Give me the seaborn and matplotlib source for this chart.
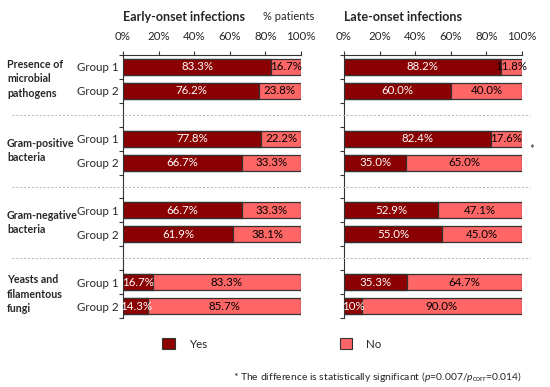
import numpy as np
import pandas as pd
import matplotlib.pyplot as plt
import seaborn as sns
from matplotlib.patches import Patch
from matplotlib.lines import Line2D
from matplotlib.transforms import blended_transform_factory

sns.set_style("white")
plt.rcParams["font.family"] = ["Lato", "DejaVu Sans"]
plt.rcParams["mathtext.fontset"] = "custom"
plt.rcParams["mathtext.rm"] = "Lato"
plt.rcParams["mathtext.it"] = "Lato:italic"

categories = ["Presence of\nmicrobial\npathogens", "Gram-positive\nbacteria",
              "Gram-negative\nbacteria", "Yeasts and\nfilamentous\nfungi"]
groups = ["Group 1", "Group 2"]

# % "Yes" / "No" per category, Group 1 then Group 2
early_yes = [83.3, 76.2, 77.8, 66.7, 66.7, 61.9, 16.7, 14.3]
early_no = [16.7, 23.8, 22.2, 33.3, 33.3, 38.1, 83.3, 85.7]
late_yes = [88.2, 60.0, 82.4, 35.0, 52.9, 55.0, 35.3, 10.0]
late_no = [11.8, 40.0, 17.6, 65.0, 47.1, 45.0, 64.7, 90.0]

dark = "#8B0000"
light = "#FF6666"
edge = "#333333"

rows = [f"{c}|{g}" for c in range(len(categories)) for g in groups]
order = []
for c in range(len(categories)):
    order += [f"{c}|{g}" for g in groups]
    if c < len(categories) - 1:
        order.append(f"gap{c}")


def fmt(v):
    return f"{v:.0f}%" if v == 10 else f"{v:.1f}%"


fig = plt.figure(figsize=(5.5, 3.87), dpi=100)
ax_l = fig.add_axes([123 / 550, 1 - 318 / 387, 178 / 550, 263 / 387])
ax_r = fig.add_axes([344 / 550, 1 - 318 / 387, 178 / 550, 263 / 387])

for ax, yes, no, title in [(ax_l, early_yes, early_no, "Early-onset infections"),
                           (ax_r, late_yes, late_no, "Late-onset infections")]:
    df = pd.DataFrame({"row": rows, "yes": yes, "no": no})
    df["total"] = df["yes"] + df["no"]
    sns.barplot(data=df, x="total", y="row", order=order, orient="h", color=light,
                saturation=1, errorbar=None, width=0.67, edgecolor=edge,
                linewidth=0.9, ax=ax)
    sns.barplot(data=df, x="yes", y="row", order=order, orient="h", color=dark,
                saturation=1, errorbar=None, width=0.67, edgecolor=edge,
                linewidth=0.9, ax=ax)
    for _, r in df.iterrows():
        pos = order.index(r["row"])
        ax.text(r["yes"] / 2, pos, fmt(r["yes"]), color="white", ha="center",
                va="center", fontsize=8.3)
        ax.text(r["yes"] + r["no"] / 2, pos, fmt(r["no"]), color="black",
                ha="center", va="center", fontsize=8.3)

    ax.set_xlim(0, 100)
    ax.set_ylim(len(order) - 0.5, -0.5)
    ax.xaxis.tick_top()
    ax.set_xticks(np.arange(0, 101, 20))
    ax.set_xticklabels([f"{t}%" for t in range(0, 101, 20)], fontsize=8.3)
    ax.tick_params(axis="x", which="major", direction="out", length=3, width=0.8,
                   color=edge, pad=6, top=True, bottom=False)
    ax.set_yticks([i for i, o in enumerate(order) if not o.startswith("gap")])
    if ax is ax_l:
        ax.set_yticklabels([o.split("|")[1] for o in order if not o.startswith("gap")],
                           fontsize=8.3)
    else:
        ax.set_yticklabels([])
    ax.tick_params(axis="y", which="major", length=0, pad=3.5)
    ax.set_yticks(np.arange(-0.5, len(order), 1.0), minor=True)
    ax.tick_params(axis="y", which="minor", direction="out", length=3, width=0.8,
                   color=edge, left=True)
    ax.set_xlabel("")
    ax.set_ylabel("")
    for s in ["bottom", "right"]:
        ax.spines[s].set_visible(False)
    for s in ["top", "left"]:
        ax.spines[s].set_color(edge)
        ax.spines[s].set_linewidth(0.8)
    ax.text(0, 1 - (17 - 55) / 263, title, transform=ax.transAxes, fontsize=9,
            fontweight="bold", ha="left", va="center")

# Dashed separators across both panels
tr = blended_transform_factory(fig.transFigure, ax_l.transData)
for i, o in enumerate(order):
    if o.startswith("gap"):
        fig.add_artist(Line2D([12 / 550, 530 / 550], [i, i], transform=tr,
                              color="#b0b0b0", linewidth=0.7, linestyle=(0, (2, 2))))

# Category labels
for c, name in enumerate(categories):
    center = order.index(f"{c}|Group 1") + 0.5
    fig.text(7 / 550, center, name, fontsize=7.7, fontweight="bold", ha="left",
             va="center", linespacing=1.35, transform=tr)

fig.text(289 / 550, 1 - 17 / 387, "% patients", fontsize=8, ha="center", va="center")
fig.text(532 / 550, 1 - 150 / 387, "*", fontsize=8, ha="center", va="center")

handles = [Patch(facecolor=dark, edgecolor=edge, linewidth=0.8, label="Yes"),
           Patch(facecolor=light, edgecolor=edge, linewidth=0.8, label="No")]
fig.legend(handles=handles, loc="center", bbox_to_anchor=(272 / 550, 1 - 344 / 387),
           ncol=2, frameon=False, fontsize=8.3, handlelength=1.1, handleheight=1.1,
           handletextpad=1.2, columnspacing=11.5)

fig.text(522 / 550, 1 - 377 / 387,
         r"* The difference is statistically significant ($\it{p}$=0.007/$\it{p}_{\rm corr}$=0.014)",
         fontsize=7.5, ha="right", va="center")

fig.savefig("out.png", dpi=100)
